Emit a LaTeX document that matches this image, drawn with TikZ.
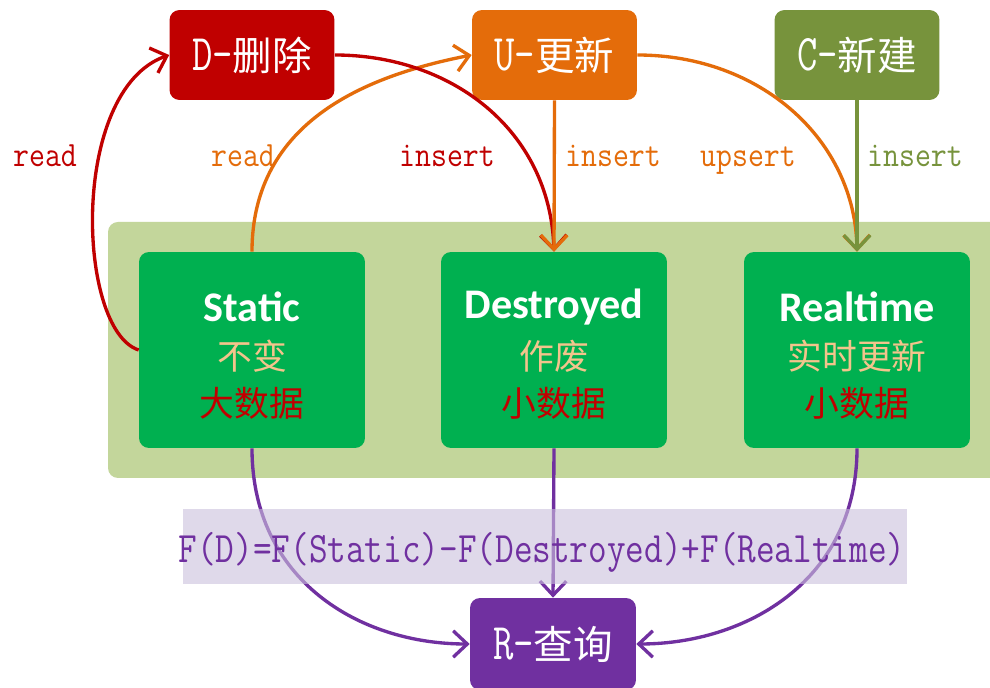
\documentclass[tikz,border=0pt]{standalone}
\usepackage{fontspec}
\usepackage{graphicx}
\usetikzlibrary{arrows.meta}
\newfontfamily\cjkfont{Noto Sans CJK SC}
\newfontfamily\calfont{Carlito}
\definecolor{cRed}{RGB}{192,0,0}
\definecolor{cOrange}{RGB}{228,108,10}
\definecolor{cOlive}{RGB}{119,147,60}
\definecolor{cBand}{RGB}{195,214,155}
\definecolor{cGreen}{RGB}{0,176,80}
\definecolor{cPurple}{RGB}{112,48,160}
\definecolor{cLav}{RGB}{202,192,220}
\definecolor{cTan}{RGB}{243,196,140}
\newcommand{\tallmono}[2][1.3]{\scalebox{1}[#1]{\ttfamily #2}}
\tikzset{
  topbox/.style={rounded corners=0.2cm, minimum width=3.3cm, minimum height=1.8cm, inner sep=0pt, text=white, font=\fontsize{22.5}{26}\selectfont},
  databox/.style={fill=cGreen, rounded corners=0.2cm, minimum width=4.52cm, minimum height=3.92cm, inner sep=0pt},
  conn/.style={line width=1.9pt, -{Straight Barb[length=8pt,width=15pt,line width=1.9pt]}},
  lbl/.style={font=\fontsize{17.6}{20}\selectfont, inner sep=0pt, anchor=base},
  ttl/.style={font=\calfont\bfseries\fontsize{24}{28}\selectfont, text=white, inner sep=0pt},
  sub/.style={font=\cjkfont\fontsize{19.8}{23}\selectfont, inner sep=0pt}
}
\begin{document}
\begin{tikzpicture}[x=0.02cm, y=-0.02cm]
\clip (0,0) rectangle (990,688);
\fill[white] (0,0) rectangle (990,688);
% band
\fill[cBand, rounded corners=0.2cm] (108,222) rectangle (1010,478);
% data boxes
\node[databox] (static) at (252,350) {};
\node[databox] (destroyed) at (554,350) {};
\node[databox] (realtime) at (857,350) {};
\node[ttl] (t1) at (252,307) {Static};
\node[sub, text=cTan] (s1) at (252,356) {不变};
\node[sub, text=cRed] (d1) at (252,403) {大数据};
\node[ttl] (t2) at (554,307) {Destroyed};
\node[sub, text=cTan] (s2) at (554,356) {作废};
\node[sub, text=cRed] (d2) at (554,403) {小数据};
\node[ttl] (t3) at (857,307) {Realtime};
\node[sub, text=cTan] (s3) at (857,356) {实时更新};
\node[sub, text=cRed] (d3) at (857,403) {小数据};
% top boxes
\node[topbox, fill=cRed] (D) at (252,55) {\tallmono{D-}\cjkfont 删除};
\node[topbox, fill=cOrange] (U) at (554.5,55) {\tallmono{U-}\cjkfont 更新};
\node[topbox, fill=cOlive] (C) at (857,55) {\tallmono{C-}\cjkfont 新建};
% R box
\node[topbox, fill=cPurple, minimum width=3.32cm, minimum height=1.84cm] (R) at (553,644) {\tallmono{R-}\cjkfont 查询};
% connectors
\draw[conn, cRed] (static.west) .. controls +(-62,-20) and +(-100,35) .. (D.west);
\draw[conn, cOrange] (static.north) .. controls +(0,-132) and +(-102,20) .. (U.west);
\draw[conn, cRed] (D.east) .. controls +(116,0) and +(-4,-122) .. (destroyed.north);
\draw[conn, cOrange] (U.south) -- (destroyed.north);
\draw[conn, cOrange] (U.east) .. controls +(123,0) and +(-2,-112) .. (realtime.north);
\draw[conn, cOlive] (C.south) -- (realtime.north);
\draw[conn, cPurple] (static.south) .. controls +(0,132) and +(-110,0) .. (R.west);
\draw[conn, cPurple] (destroyed.south) -- (R.north);
\draw[conn, cPurple] (realtime.south) .. controls +(0,132) and +(110,0) .. (R.east);
% labels
\node[lbl, text=cRed] (l1) at (45,167) {\tallmono[1.15]{read}};
\node[lbl, text=cOrange] (l2) at (243,167) {\tallmono[1.15]{read}};
\node[lbl, text=cRed] (l3) at (447,167) {\tallmono[1.15]{insert}};
\node[lbl, text=cOrange] (l4) at (613,167) {\tallmono[1.15]{insert}};
\node[lbl, text=cOrange] (l5) at (748,167) {\tallmono[1.15]{upsert}};
\node[lbl, text=cOlive] (l6) at (915,167) {\tallmono[1.15]{insert}};
% formula
\fill[cLav, opacity=0.6] (183,509) rectangle (907,584);
\node[inner sep=0pt, anchor=base, text=cPurple, font=\fontsize{20.6}{23}\selectfont] (F) at (542,562) {\tallmono[1.2]{F(D)=F(Static)-F(Destroyed)+F(Realtime)}};
\end{tikzpicture}
\end{document}
